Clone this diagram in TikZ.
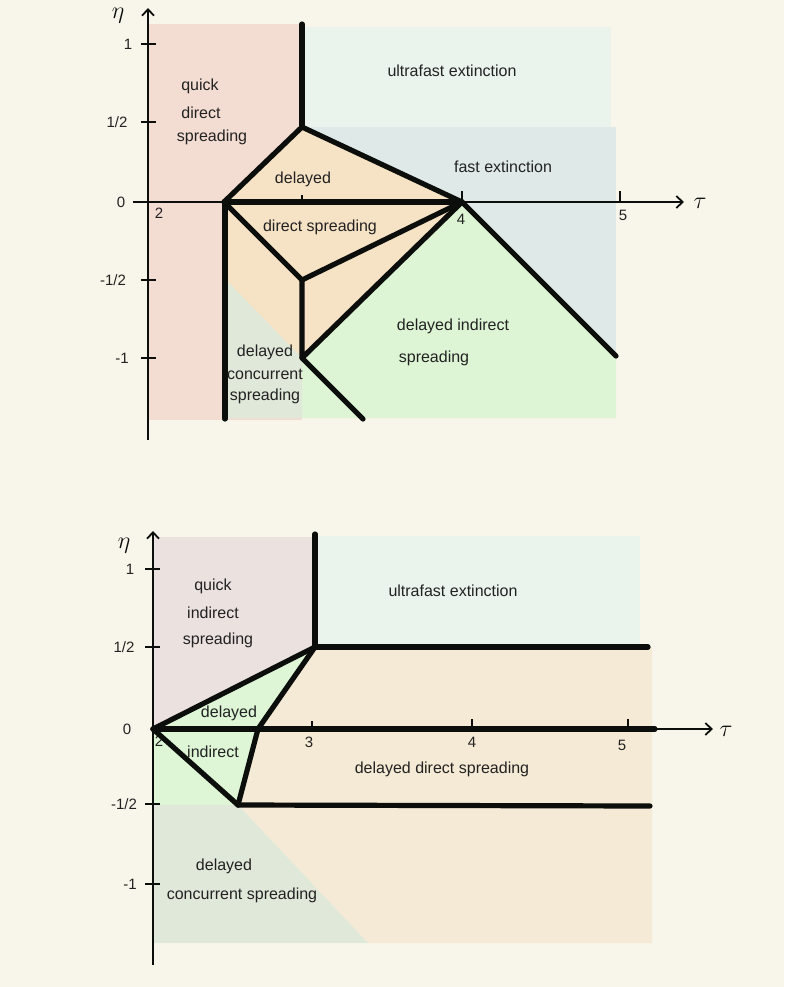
\documentclass[tikz,border=0pt]{standalone}
\usepackage{fontspec}
\setmainfont{Liberation Sans}
\usetikzlibrary{arrows.meta}
\definecolor{bg}{RGB}{248,246,234}
\definecolor{pinkA}{RGB}{243,221,211}
\definecolor{ultraA}{RGB}{234,243,236}
\definecolor{fastA}{RGB}{223,234,232}
\definecolor{orangeA}{RGB}{246,227,197}
\definecolor{greenA}{RGB}{222,245,213}
\definecolor{grayA}{RGB}{223,232,217}
\definecolor{pinkB}{RGB}{235,225,222}
\definecolor{orangeB}{RGB}{245,234,213}
\definecolor{greenB}{RGB}{222,245,214}
\definecolor{txt}{RGB}{34,34,34}
\definecolor{lin}{RGB}{12,14,12}
\begin{document}
\begin{tikzpicture}[x=0.5pt,y=-0.5pt,
  bnd/.style={draw=lin,line width=2.6pt,line cap=round,line join=round},
  ax/.style={draw=lin,line width=0.9pt},
  axarrow/.style={ax,-{Straight Barb[length=3.2pt,width=6pt,line width=0.9pt]}},
  tk/.style={draw=lin,line width=0.8pt},
  lbl/.style={font=\fontsize{8}{9.6}\selectfont,text=txt,inner sep=0pt},
  num/.style={font=\fontsize{7.5}{9}\selectfont,text=txt,inner sep=0pt},
  sym/.style={font=\fontsize{13}{15}\selectfont,text=lin,inner sep=0pt}]
\useasboundingbox (0,0) rectangle (784,987);
\fill[bg] (0,0) rectangle (784,987);

% ================= TOP DIAGRAM =================
\coordinate (A) at (224,202);
\coordinate (B) at (302,127);
\coordinate (C) at (462,202);
\coordinate (D) at (302,280);
\coordinate (E) at (302,358);
\coordinate (F) at (363,419);
\coordinate (G) at (616,356);
\coordinate (T) at (302,24);
\coordinate (V) at (225,419);
\coordinate (Vt) at (225,204);

% regions
\fill[pinkA] (148,24) rectangle (302,420);
\fill[ultraA] (302,27) rectangle (611,127);
\fill[fastA] (302,127) rectangle (616,357);
\fill[greenA] (462,202) -- (616,357) -- (616,418) -- (302,418) -- (302,358) -- cycle;
\fill[orangeA] (224,202) -- (302,127) -- (462,202) -- (302,358) -- (226,280) -- (226,202) -- cycle;
\fill[grayA] (226,280) -- (302,358) -- (302,418) -- (226,418) -- cycle;

% axes
\draw[axarrow] (148,440) -- (148,8);
\draw[axarrow] (133,202) -- (684,202);
\node[sym] (etaA) at (118,16) {$\eta$};
\node[sym] (tauA) at (700,203) {$\tau$};

% ticks
\foreach \yy in {44,122,280,358} \draw[tk] (141,\yy) -- (156,\yy);
\draw[tk] (302,195) -- (302,202);
\draw[tk] (462,191) -- (462,202);
\draw[tk] (620,191) -- (620,202);
\node[num] (y1A) at (128,44) {1};
\node[num] (y2A) at (117,122) {1/2};
\node[num] (y3A) at (121,202) {0};
\node[num] (y4A) at (113,280) {-1/2};
\node[num] (y5A) at (122,358) {-1};
\node[num] (x2A) at (159,213) {2};
\node[num] (x4A) at (461,219) {4};
\node[num] (x5A) at (623,215) {5};

% boundaries
\draw[bnd] (T) -- (B);
\draw[bnd] (A) -- (B) -- (C);
\draw[bnd] (A) -- (C);
\draw[bnd] (A) -- (D) -- (C);
\draw[bnd] (D) -- (E) -- (C);
\draw[bnd] (E) -- (F);
\draw[bnd] (C) -- (G);
\draw[bnd] (Vt) -- (V);

% labels
\node[lbl] (qA1) at (200,86) {quick};
\node[lbl] (qA2) at (201,113) {direct};
\node[lbl] (qA3) at (212,137) {spreading};
\node[lbl] (uA) at (452,71) {ultrafast extinction};
\node[lbl] (fA) at (503,167) {fast extinction};
\node[lbl] (dA1) at (303,179) {delayed};
\node[lbl] (dA2) at (320,227) {direct spreading};
\node[lbl] (iA1) at (453,326) {delayed indirect};
\node[lbl] (iA2) at (434,358) {spreading};
\node[lbl] (cA1) at (265,352) {delayed};
\node[lbl] (cA2) at (265,374) {concurrent};
\node[lbl] (cA3) at (265,396) {spreading};

% ================= BOTTOM DIAGRAM =================
\coordinate (a) at (153,729);
\coordinate (b) at (315,647);
\coordinate (c) at (258,729);
\coordinate (d) at (238,805);
\coordinate (e) at (315,534);
\coordinate (f) at (648,647);
\coordinate (g) at (655,729);
\coordinate (h) at (650,806);

% regions
\fill[pinkB] (153,537) -- (315,537) -- (315,647) -- (153,729) -- cycle;
\fill[ultraA] (315,536) rectangle (640,647);
\fill[orangeB] (315,647) -- (652,647) -- (652,943) -- (368,943) -- (238,805) -- (258,729) -- cycle;
\fill[greenB] (153,729) -- (315,647) -- (258,729) -- (238,805) -- (153,805) -- cycle;
\fill[grayA] (153,805) -- (238,805) -- (368,943) -- (153,943) -- cycle;

% axes
\draw[axarrow,line width=1.1pt] (153,965) -- (153,531);
\draw[axarrow] (153,729) -- (713,729);
\node[sym] (etaB) at (124,546) {$\eta$};
\node[sym] (tauB) at (726,731) {$\tau$};

% ticks
\foreach \yy in {569,647,804,884} \draw[tk] (145,\yy) -- (160,\yy);
\draw[tk] (312,721) -- (312,729);
\draw[tk] (472,719) -- (472,729);
\draw[tk] (628,719) -- (628,729);
\node[num] (y1B) at (130,569) {1};
\node[num] (y2B) at (124,647) {1/2};
\node[num] (y3B) at (127,729) {0};
\node[num] (y4B) at (124,804) {-1/2};
\node[num] (y5B) at (130,884) {-1};
\node[num] (x2B) at (159,741) {2};
\node[num] (x3B) at (309,742) {3};
\node[num] (x4B) at (472,742) {4};
\node[num] (x5B) at (622,745) {5};

% boundaries
\draw[bnd] (e) -- (b) -- (f);
\draw[bnd] (a) -- (b);
\draw[bnd] (b) -- (c) -- (d);
\draw[bnd] (a) -- (d);
\draw[bnd] (a) -- (g);
\draw[bnd] (d) -- (h);

% labels
\node[lbl] (qB1) at (213,586) {quick};
\node[lbl] (qB2) at (213,613) {indirect};
\node[lbl] (qB3) at (218,640) {spreading};
\node[lbl] (uB) at (453,591) {ultrafast extinction};
\node[lbl] (dB1) at (229,713) {delayed};
\node[lbl] (dB2) at (213,752) {indirect};
\node[lbl] (ddB) at (442,769) {delayed direct spreading};
\node[lbl] (cB1) at (224,866) {delayed};
\node[lbl] (cB2) at (242,895) {concurrent spreading};
\end{tikzpicture}
\end{document}
